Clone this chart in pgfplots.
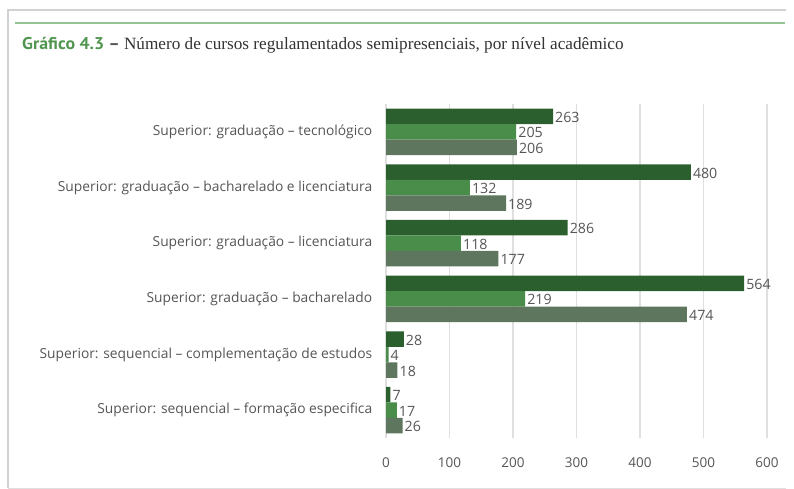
\documentclass[border=0pt]{standalone}
\usepackage{fontspec}
\setmainfont{Open Sans}
\newfontfamily\titleserif{Liberation Serif}
\newfontfamily\titlesans{PT Sans}
\usepackage{pgfplots}
\pgfplotsset{compat=1.18}

\definecolor{barDark}{RGB}{44,95,46}
\definecolor{barMid}{RGB}{74,140,74}
\definecolor{barGrey}{RGB}{94,117,94}
\definecolor{labelGrey}{RGB}{85,85,85}
\definecolor{titleGreen}{RGB}{80,150,80}
\definecolor{ruleGreen}{RGB}{150,195,150}

\begin{document}
\begin{tikzpicture}
\path[use as bounding box] (0,0) rectangle (794pt,-489pt);
% frame and green rule
\draw[gray!35, line width=1.5pt] (8pt,-488pt) -- (8pt,-10pt) -- (786pt,-10pt);
\draw[gray!25, line width=1pt] (8pt,-488pt) -- (786pt,-488pt);
\draw[ruleGreen, line width=1.5pt] (15pt,-23pt) -- (785pt,-23pt);
\node[anchor=base west, inner sep=0pt] at (22pt,-50pt)
  {\titlesans\bfseries\fontsize{17}{19}\selectfont\scalebox{1.05}[1]{\textcolor{titleGreen}{Gráfico 4.3}} \textcolor{labelGrey}{–}
   \titleserif\mdseries\fontsize{17.2}{19}\selectfont\textcolor{black!80}{Número de cursos regulamentados semipresenciais, por nível acadêmico}};

\begin{axis}[
  at={(386pt,-438pt)}, anchor=south west,
  scale only axis, width=381pt, height=334pt,
  xbar, bar width=15.5pt,
  xmin=0, xmax=600, ymin=-0.5, ymax=5.5,
  xtick={0,100,...,600},
  ytick={0,...,5},
  yticklabels={
    Superior: sequencial – formação especifica,
    Superior: sequencial – complementação de estudos,
    Superior: graduação – bacharelado,
    Superior: graduação – licenciatura,
    Superior: graduação – bacharelado e licenciatura,
    Superior: graduação – tecnológico},
  axis line style={draw=none},
  major tick style={draw=none},
  xmajorgrids, grid style={gray!25, line width=1.2pt},
  yticklabel style={font=\fontsize{13.8}{15}\selectfont, text=labelGrey, xshift=-6pt},
  xticklabel style={font=\fontsize{13.5}{15}\selectfont, text=labelGrey, yshift=-16pt},
  /pgf/number format/assume math mode=true,
  nodes near coords,
  nodes near coords style={font=\fontsize{14.2}{16}\selectfont, text=labelGrey, anchor=west, inner sep=2pt, yshift=-1pt},
]
  \addplot[fill=barDark, draw=none, bar shift=15.5pt] coordinates {
    (263,5) (480,4) (286,3) (564,2) (28,1) (7,0)
  };
  \addplot[fill=barMid, draw=none, bar shift=0pt] coordinates {
    (205,5) (132,4) (118,3) (219,2) (4,1) (17,0)
  };
  \addplot[fill=barGrey, draw=none, bar shift=-15.5pt] coordinates {
    (206,5) (189,4) (177,3) (474,2) (18,1) (26,0)
  };
\end{axis}
\end{tikzpicture}
\end{document}
